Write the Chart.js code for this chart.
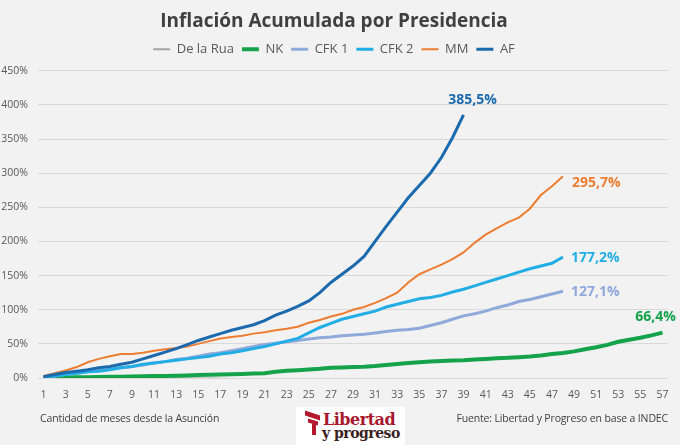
<!DOCTYPE html>
<html>
<head>
<meta charset="utf-8">
<script src="https://cdn.jsdelivr.net/npm/chart.js@4.4.1/dist/chart.umd.min.js"></script>
<style>
  html, body { margin: 0; padding: 0; background: #F2F2F2; }
  #wrap { position: relative; width: 680px; height: 445px; overflow: hidden; }
  #chart { position: absolute; left: 0; top: 0; }
  .foot { position: absolute; top: 411px; font: 10.5px 'Open Sans', sans-serif; color: #404040; white-space: nowrap; letter-spacing: -0.15px; }
  #logo { position: absolute; left: 296px; top: 407px; width: 109px; height: 38px; background: #fff; }
  #logo .mark { position: absolute; left: 9px; top: 6px; width: 15px; height: 5px; background: #B5172E; transform: skewY(18deg); }
  #logo .mark2 { position: absolute; left: 12px; top: 13px; width: 10px; height: 4px; background: #B5172E; transform: skewY(18deg); }
  #logo .mark3 { position: absolute; left: 16px; top: 17px; width: 4px; height: 11px; background: #B5172E; }
  #logo .t1 { position: absolute; left: 27px; top: 3px; font: bold 16px 'DejaVu Serif', serif; color: #A8182D; letter-spacing: -0.5px; }
  #logo .t2 { position: absolute; left: 26px; top: 18px; font: bold 14px 'DejaVu Serif', serif; color: #3B1E22; letter-spacing: -0.5px; }
</style>
</head>
<body>
<div id="wrap">
  <canvas id="chart" width="680" height="445"></canvas>
  <div class="foot" style="left:40px;">Cantidad de meses desde la Asunción</div>
  <div class="foot" style="right:12px;">Fuente: Libertad y Progreso en base a INDEC</div>
  <div id="logo">
    <div class="mark"></div><div class="mark2"></div><div class="mark3"></div>
    <div class="t1">Libertad</div>
    <div class="t2">y progreso</div>
  </div>
</div>
<script>
var months = [1, 2, 3, 4, 5, 6, 7, 8, 9, 10, 11, 12, 13, 14, 15, 16, 17, 18, 19, 20,
  21, 22, 23, 24, 25, 26, 27, 28, 29, 30, 31, 32, 33, 34, 35, 36, 37, 38, 39, 40,
  41, 42, 43, 44, 45, 46, 47, 48, 49, 50, 51, 52, 53, 54, 55, 56, 57];

var deLaRua = [-0.2, 0.3, 0.1, 0.3, -0.3, -0.6, -0.4, -0.5, -0.7, -0.5, -0.6, -0.9,
  -0.7, -0.6, -0.8, -0.9, -1.2, -1.3, -1.5, -1.8, -2.1, -1.9, -1.8, -1.5];

var nk = [0.5, 0.5, 0.8, 1, 1.2, 1.5, 1.8, 2, 2.2, 2.5, 2.8, 3, 3.3, 3.8, 4.3, 4.8,
  5.2, 5.6, 6, 6.5, 7, 9, 10.5, 11.5, 12.5, 13.5, 15, 15.5, 16, 16.5, 17.5, 19,
  20.5, 22, 23, 24, 25, 25.5, 26, 27, 28, 29, 29.5, 30.5, 31.5, 33, 35, 36.5,
  39, 42, 45, 48.5, 53, 56, 59, 62.5, 66.4];

var cfk1 = [1, 3, 5, 7, 9, 11, 13, 15, 17, 19, 22, 24, 27, 29, 32, 35, 37, 40, 43,
  46, 49, 51, 53, 55, 57, 59, 60, 62, 63, 64, 66, 68, 70, 71, 73, 77, 81, 86, 91,
  94, 98, 103, 107, 112, 115, 119, 123, 127.1];

var cfk2 = [1, 3, 5, 7, 9, 10, 12, 15, 17, 20, 22, 24, 26, 28, 30, 32, 35, 37, 40,
  43, 46, 50, 54, 58, 66, 74, 80, 86, 90, 94, 98, 104, 108, 112, 116, 118, 121,
  126, 130, 135, 140, 145, 150, 155, 160, 164, 168, 177.2];

var mm = [3, 7, 11, 16, 23, 28, 32, 35, 35, 37, 40, 42, 44, 46, 50, 54, 58, 60, 62,
  65, 67, 70, 72, 75, 81, 85, 90, 94, 100, 104, 110, 117, 125, 140, 152, 159, 166,
  174, 184, 198, 210, 219, 228, 235, 248, 268, 281, 295.7];

var af = [2, 5, 8, 10, 12, 15, 17, 20, 23, 28, 33, 38, 43, 49, 55, 60, 65, 70, 74,
  78, 84, 92, 98, 105, 113, 125, 140, 152, 164, 178, 200, 222, 243, 264, 282, 300,
  323, 352, 385.5];

var yTicks = [0, 50, 100, 150, 200, 250, 300, 350, 400, 450];

// where each final value label sits relative to the last point
var endLabels = {
  'NK':    { dx: -7, dy: -16, align: 'center' },
  'CFK 1': { dx: 8, dy: 1, align: 'left' },
  'CFK 2': { dx: 8, dy: 1, align: 'left' },
  'MM':    { dx: 9, dy: 7, align: 'left' },
  'AF':    { dx: 9, dy: -15, align: 'center' }
};

var endLabelPlugin = {
  id: 'endLabels',
  afterDatasetsDraw: function(chart) {
    var ctx = chart.ctx;
    chart.data.datasets.forEach(function(ds, i) {
      var cfg = endLabels[ds.label];
      if (!cfg) return;
      var meta = chart.getDatasetMeta(i);
      var pt = meta.data[ds.data.length - 1];
      var v = ds.data[ds.data.length - 1];
      ctx.save();
      ctx.font = 'bold 14px "Open Sans", sans-serif';
      ctx.fillStyle = ds.borderColor;
      ctx.textAlign = cfg.align;
      ctx.textBaseline = 'middle';
      ctx.fillText(v.toFixed(1).replace('.', ',') + '%', pt.x + cfg.dx, pt.y + cfg.dy);
      ctx.restore();
    });
  }
};

// a bit more room under the legend
var legendGap = {
  id: 'legendGap',
  beforeInit: function(chart) {
    var fit = chart.legend.fit;
    chart.legend.fit = function() {
      fit.call(this);
      this.height += 5;
    };
  }
};

function series(label, data, color, width, order) {
  return {
    label: label,
    data: data,
    borderColor: color,
    backgroundColor: color,
    borderWidth: width,
    pointRadius: 0,
    pointStyle: 'line',
    tension: 0,
    fill: false,
    order: order
  };
}

var chart = new Chart(document.getElementById('chart'), {
  type: 'line',
  data: {
    labels: months,
    datasets: [
      series('De la Rua', deLaRua, '#A5A5A5', 2, 5),
      series('NK', nk, '#14A24B', 4, 4),
      series('CFK 1', cfk1, '#8FA9DA', 3, 3),
      series('CFK 2', cfk2, '#22AEE5', 3, 2),
      series('MM', mm, '#ED7D31', 2, 1),
      series('AF', af, '#1C6AAE', 3, 0)
    ]
  },
  plugins: [endLabelPlugin, legendGap],
  options: {
    responsive: false,
    animation: false,
    layout: { padding: { left: 0, right: 12, top: 4, bottom: 46 } },
    plugins: {
      title: {
        display: true,
        text: 'Inflación Acumulada por Presidencia',
        color: '#404040',
        font: { family: 'Open Sans', size: 19, weight: 'bold' },
        padding: { top: 6, bottom: 2 }
      },
      legend: {
        position: 'top',
        labels: {
          usePointStyle: true,
          pointStyleWidth: 17,
          color: '#595959',
          font: { family: 'Open Sans', size: 13 },
          padding: 8,
          boxHeight: 10,
          sort: function(a, b) { return a.datasetIndex - b.datasetIndex; }
        }
      },
      tooltip: { enabled: false }
    },
    scales: {
      x: {
        type: 'category',
        offset: true,
        grid: { display: false },
        border: { display: false },
        afterFit: function(scale) { scale.height = 21; },
        ticks: {
          autoSkip: false,
          maxRotation: 0,
          color: '#595959',
          font: { family: 'Open Sans', size: 10.5 },
          padding: 3,
          callback: function(value, index) {
            return index % 2 === 0 ? months[index] : '';
          }
        }
      },
      y: {
        min: 0,
        max: 450,
        afterBuildTicks: function(scale) {
          scale.ticks = yTicks.map(function(v) { return { value: v }; });
        },
        afterFit: function(scale) { scale.width = 38; },
        grid: { color: '#D9D9D9', drawTicks: false },
        border: { display: false },
        ticks: {
          color: '#595959',
          font: { family: 'Open Sans', size: 10.5 },
          padding: 10,
          callback: function(value) { return value + '%'; }
        }
      }
    }
  }
});
</script>
</body>
</html>
